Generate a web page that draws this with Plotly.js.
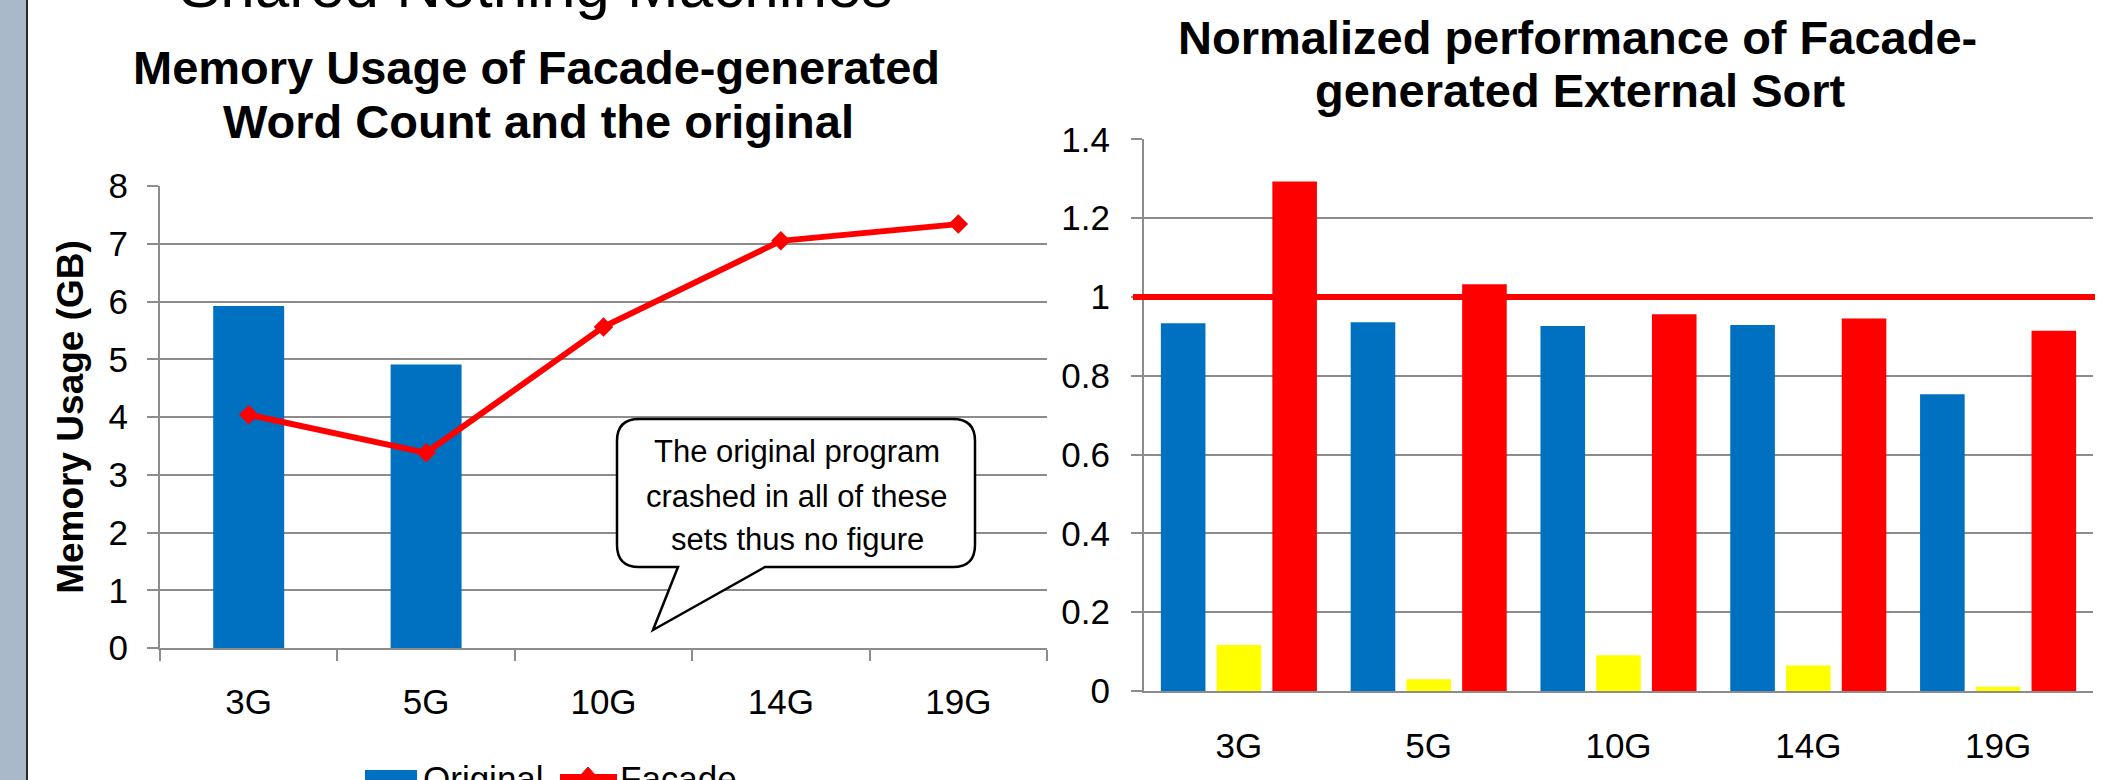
<!DOCTYPE html>
<html>
<head>
<meta charset="utf-8">
<script src="https://cdn.plot.ly/plotly-3.0.1.min.js"></script>
<style>
html,body{margin:0;padding:0;background:#fff;overflow:hidden;}
#chart{width:2113px;height:780px;}
</style>
</head>
<body>
<div id="chart"></div>
<script>
// ---------- data ----------
const categories = ['3G', '5G', '10G', '14G', '19G'];
const memOriginal = [5.92, 4.91, null, null, null];
const memFacade = [4.04, 3.38, 5.56, 7.05, 7.34];
const perfBlue = [0.933, 0.936, 0.926, 0.929, 0.753];
const perfYellow = [0.117, 0.030, 0.091, 0.065, 0.011];
const perfRed = [1.293, 1.032, 0.956, 0.945, 0.914];
const baselineValue = 1;
const slideTitle = 'Shared Nothing Machines';
const leftTitle = ['Memory Usage of Facade-generated', 'Word Count and the original'];
const rightTitle = ['Normalized performance of Facade-', 'generated External Sort'];
const leftYTitle = 'Memory Usage (GB)';
const calloutLines = ['The original program', 'crashed in all of these', 'sets thus no figure'];
const legendNames = ['Original', 'Facade'];

// ---------- helpers ----------
const W = 2113, H = 780;
const px = v => v / W;
const py = v => 1 - v / H;
const FONT = 'Liberation Sans, Arial, Helvetica, sans-serif';
const GRID = '#8c8c8c';
const BLUE = '#0070C0', RED = '#FF0000', YELLOW = '#FFFF00';

function buildPath(cmds) {
  return cmds.map(c => {
    const op = c[0];
    const nums = c.slice(1);
    const out = [];
    for (let i = 0; i < nums.length; i += 2) {
      out.push(px(nums[i]).toFixed(6) + ',' + py(nums[i + 1]).toFixed(6));
    }
    return op + out.join(' ');
  }).join(' ');
}

// callout bubble geometry (pixels)
const bx0 = 617, bx1 = 975, by0 = 419, by1 = 567, r = 22;
const calloutPath = buildPath([
  ['M', bx0 + r, by0], ['L', bx1 - r, by0], ['Q', bx1, by0, bx1, by0 + r],
  ['L', bx1, by1 - r], ['Q', bx1, by1, bx1 - r, by1],
  ['L', 765, by1], ['L', 653, 630], ['L', 678, by1],
  ['L', bx0 + r, by1], ['Q', bx0, by1, bx0, by1 - r],
  ['L', bx0, by0 + r], ['Q', bx0, by0, bx0 + r, by0], ['Z']
]);
const legendDiamond = buildPath([
  ['M', 588, 767], ['L', 597, 777], ['L', 588, 787], ['L', 579, 777], ['Z']
]);

// ---------- traces ----------
const traces = [
  {type: 'bar', name: legendNames[0], x: categories, y: memOriginal, xaxis: 'x', yaxis: 'y',
   width: 0.4, marker: {color: BLUE}},
  {type: 'scatter', mode: 'lines+markers', name: legendNames[1], x: categories, y: memFacade,
   xaxis: 'x', yaxis: 'y', line: {color: RED, width: 6},
   marker: {symbol: 'diamond', size: 15, color: RED}},
  {type: 'bar', name: 'Original', x: categories, y: perfBlue, xaxis: 'x2', yaxis: 'y2', marker: {color: BLUE}},
  {type: 'bar', name: 'Series 2', x: categories, y: perfYellow, xaxis: 'x2', yaxis: 'y2', marker: {color: YELLOW}},
  {type: 'bar', name: 'Facade', x: categories, y: perfRed, xaxis: 'x2', yaxis: 'y2', marker: {color: RED}}
];

const axisCommon = {
  showline: true, linecolor: GRID, linewidth: 2,
  tickcolor: GRID, tickwidth: 2,
  tickfont: {family: FONT, size: 35, color: '#000'},
  fixedrange: true, zeroline: false
};

const ann = (text, x, y, size, opts) => Object.assign({
  text: text, x: px(x), y: py(y), xref: 'paper', yref: 'paper',
  showarrow: false, xanchor: 'center', yanchor: 'middle',
  font: {family: FONT, size: size, color: '#000'}
}, opts || {});
const boldFont = {family: FONT, size: 47, weight: 'bold', color: '#000'};
const calloutFont = {family: FONT, size: 31, color: '#000'};

const layout = {
  width: W, height: H,
  margin: {l: 0, r: 0, t: 0, b: 0},
  paper_bgcolor: '#ffffff', plot_bgcolor: 'rgba(0,0,0,0)',
  showlegend: false,
  barmode: 'group', bargap: 0.119, bargroupgap: 0.2,
  font: {family: FONT, color: '#000'},
  xaxis: Object.assign({}, axisCommon, {
    domain: [px(160), px(1047)], anchor: 'y', type: 'category', range: [-0.5, 4.5],
    ticks: 'outside', tickson: 'boundaries', ticklen: 11, showgrid: false,
    ticklabelstandoff: 22
  }),
  yaxis: Object.assign({}, axisCommon, {
    domain: [py(648), py(186)], anchor: 'x', range: [0, 8], dtick: 1, tick0: 0,
    ticks: 'outside', ticklen: 11, showgrid: true, gridcolor: GRID, gridwidth: 2,
    ticklabelstandoff: 12,
    title: {text: leftYTitle, font: {family: FONT, size: 37, weight: 'bold', color: '#000'}, standoff: 14}
  }),
  xaxis2: Object.assign({}, axisCommon, {
    domain: [px(1144), px(2093)], anchor: 'y2', type: 'category', range: [-0.5, 4.5],
    ticks: '', showgrid: false, ticklabelstandoff: 23
  }),
  yaxis2: Object.assign({}, axisCommon, {
    domain: [py(691), py(139.3)], anchor: 'x2', range: [0, 1.4], dtick: 0.2, tick0: 0,
    ticks: 'outside', ticklen: 11, showgrid: true, gridcolor: GRID, gridwidth: 2,
    ticklabelstandoff: 14
  }),
  shapes: [
    {type: 'rect', xref: 'paper', yref: 'paper', x0: 0, x1: px(26), y0: 0, y1: 1,
     fillcolor: '#a9b9ca', line: {width: 0}},
    {type: 'rect', xref: 'paper', yref: 'paper', x0: px(26), x1: px(28), y0: 0, y1: 1,
     fillcolor: '#2a2a2a', line: {width: 0}},
    {type: 'line', xref: 'paper', yref: 'y2', x0: px(1133), x1: px(2095),
     y0: baselineValue, y1: baselineValue, line: {color: RED, width: 6}},
    {type: 'path', xref: 'paper', yref: 'paper', path: calloutPath,
     fillcolor: '#ffffff', line: {color: '#000', width: 2.5}},
    {type: 'rect', xref: 'paper', yref: 'paper', x0: px(365), x1: px(417), y0: py(795), y1: py(770),
     fillcolor: BLUE, line: {width: 0}},
    {type: 'line', xref: 'paper', yref: 'paper', x0: px(560), x1: px(617), y0: py(777), y1: py(777),
     line: {color: RED, width: 6}},
    {type: 'path', xref: 'paper', yref: 'paper', path: legendDiamond,
     fillcolor: RED, line: {color: RED, width: 1}}
  ],
  annotations: [
    ann(slideTitle, 535, -15, 62),
    ann(leftTitle[0], 536, 67.5, 47, {font: boldFont}),
    ann(leftTitle[1], 538, 121.5, 47, {font: boldFont}),
    ann(rightTitle[0], 1577, 37.5, 47, {font: boldFont}),
    ann(rightTitle[1], 1580, 90.5, 47, {font: boldFont}),
    ann(calloutLines[0], 797, 451.5, 31, {font: calloutFont}),
    ann(calloutLines[1], 797, 496.8, 31, {font: calloutFont}),
    ann(calloutLines[2], 797, 539.8, 31, {font: calloutFont}),
    ann(legendNames[0], 421, 778.5, 35, {xanchor: 'left'}),
    ann(legendNames[1], 618, 778.5, 35, {xanchor: 'left'})
  ]
};

Plotly.newPlot('chart', traces, layout, {staticPlot: true, displayModeBar: false});
</script>
</body>
</html>
